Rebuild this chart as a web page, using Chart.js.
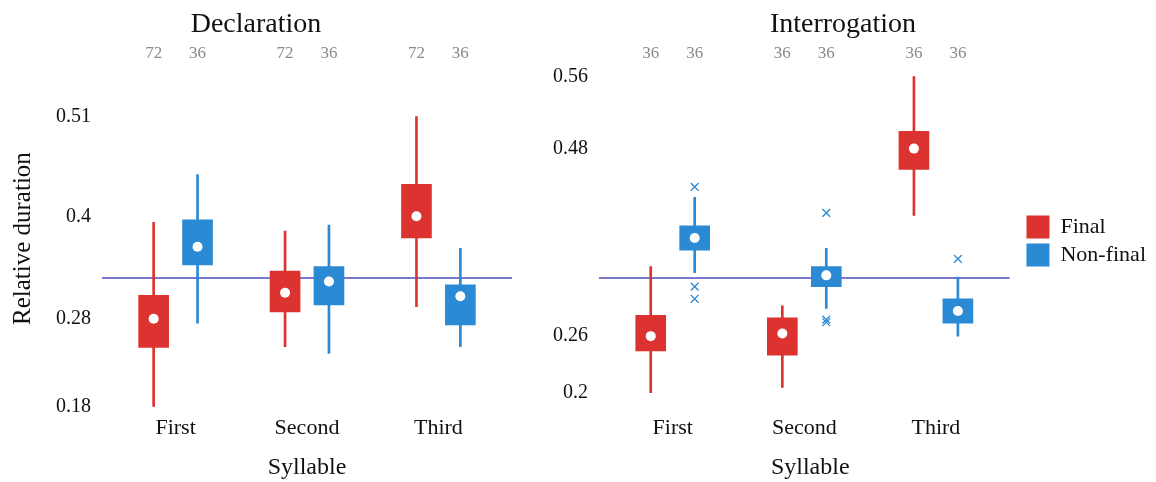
<!DOCTYPE html>
<html>
<head>
<meta charset="utf-8">
<script src="https://cdn.jsdelivr.net/npm/chart.js@4"></script>
<style>
  body { margin: 0; background: #fff; }
  #wrap { position: relative; width: 1156px; height: 482px; }
  #left { position: absolute; left: 0; top: 0; }
  #right { position: absolute; left: 530px; top: 0; }
</style>
</head>
<body>
<div id="wrap">
  <canvas id="left" width="530" height="482"></canvas>
  <canvas id="right" width="626" height="482"></canvas>
</div>
<script>
// categories and groups
const syllables = ['First', 'Second', 'Third'];
const groups = ['Final', 'Non-final'];

// Declaration: whisker low, box low, middle dot, box high, whisker high
const declFinalLow = [0.182, 0.251, 0.297];
const declFinalQ1 = [0.250, 0.291, 0.376];
const declFinalMid = [0.283, 0.313, 0.401];
const declFinalQ3 = [0.310, 0.338, 0.438];
const declFinalHigh = [0.394, 0.384, 0.516];
const declFinalN = [72, 72, 72];

const declNonLow = [0.278, 0.243, 0.251];
const declNonQ1 = [0.345, 0.299, 0.276];
const declNonMid = [0.366, 0.326, 0.309];
const declNonQ3 = [0.397, 0.343, 0.322];
const declNonHigh = [0.449, 0.391, 0.364];
const declNonN = [36, 36, 36];
const declOutliers = [[], [], []];

const declTickValues = [0.182, 0.283, 0.401, 0.516];
const declTickLabels = ['0.18', '0.28', '0.4', '0.51'];

// Interrogation
const intFinalLow = [0.198, 0.204, 0.402];
const intFinalQ1 = [0.246, 0.241, 0.455];
const intFinalMid = [0.263, 0.266, 0.479];
const intFinalQ3 = [0.287, 0.284, 0.499];
const intFinalHigh = [0.343, 0.298, 0.562];
const intFinalN = [36, 36, 36];

const intNonLow = [0.336, 0.295, 0.263];
const intNonQ1 = [0.362, 0.320, 0.278];
const intNonMid = [0.376, 0.333, 0.292];
const intNonQ3 = [0.390, 0.343, 0.306];
const intNonHigh = [0.423, 0.364, 0.331];
const intNonN = [36, 36, 36];
const intOutliers = [[0.435, 0.320, 0.306], [0.405, 0.282, 0.279], [0.352]];

const intTickValues = [0.198, 0.263, 0.479, 0.562];
const intTickLabels = ['0.2', '0.26', '0.48', '0.56'];

const refValue = 0.33;
const yMin = 0.1756, yMax = 0.5751;
const lineStart = 0.44, lineEnd = 3.56;
const offset = 0.167;

const red = '#dc3330';
const blue = '#2a8ad4';
const purple = '#7b78d0';
const serif = "'Liberation Serif', 'DejaVu Serif', serif";

function pos(i, g) { return i + 1 + (g === 0 ? -offset : offset); }

function ranges(lo, hi, g) { return lo.map((v, i) => ({ x: pos(i, g), y: [v, hi[i]] })); }

function points(vals, g) { return vals.map((v, i) => ({ x: pos(i, g), y: v })); }

function makeChart(canvas, cfg) {
  const datasets = [
    { type: 'bar', label: groups[0], data: ranges(cfg.fLo, cfg.fHi, 0), backgroundColor: red,
      barThickness: 2, grouped: false, order: 3, whisker: true },
    { type: 'bar', label: groups[1], data: ranges(cfg.nLo, cfg.nHi, 1), backgroundColor: blue,
      barThickness: 2, grouped: false, order: 3, whisker: true },
    { type: 'bar', label: groups[0], data: ranges(cfg.fQ1, cfg.fQ3, 0), backgroundColor: red,
      barThickness: 30, grouped: false, order: 2 },
    { type: 'bar', label: groups[1], data: ranges(cfg.nQ1, cfg.nQ3, 1), backgroundColor: blue,
      barThickness: 30, grouped: false, order: 2 },
    { type: 'scatter', label: 'mid', data: points(cfg.fMid, 0).concat(points(cfg.nMid, 1)),
      pointRadius: 5, pointBackgroundColor: '#fff', pointBorderWidth: 0, order: 0, whisker: true },
    { type: 'scatter', label: 'out',
      data: cfg.outliers.flatMap((arr, i) => arr.map(v => ({ x: pos(i, 1), y: v }))),
      pointStyle: 'crossRot', pointRadius: 5.5, borderColor: blue, pointBorderColor: blue,
      pointBorderWidth: 1.3, order: 1, whisker: true },
    { type: 'line', label: 'ref', data: [{ x: lineStart, y: refValue }, { x: lineEnd, y: refValue }],
      borderColor: purple, borderWidth: 2, pointRadius: 0, order: 5, whisker: true }
  ];
  const counts = cfg.fN.flatMap((n, i) => [n, cfg.nN[i]]);
  const topPos = syllables.flatMap((s, i) => [pos(i, 0), pos(i, 1)]);

  return new Chart(canvas, {
    type: 'bar',
    data: { datasets },
    options: {
      responsive: false,
      animation: false,
      layout: { padding: { right: cfg.padRight, top: 0 } },
      plugins: {
        title: { display: true, text: cfg.title, color: '#111',
          font: { family: serif, size: 28, weight: 'normal', lineHeight: 1.1 }, padding: { top: 9, bottom: 0 } },
        legend: {
          display: cfg.legend,
          position: 'right',
          labels: {
            filter: (item, data) => !data.datasets[item.datasetIndex].whisker,
            boxWidth: 23, boxHeight: 23, padding: 5, color: '#111',
            font: { family: serif, size: 22 }
          }
        },
        tooltip: { enabled: false }
      },
      scales: {
        x: {
          type: 'linear', position: 'bottom', min: cfg.xMin, max: cfg.xMax, offset: false,
          grid: { display: false, drawTicks: false }, border: { display: false },
          afterBuildTicks: s => { s.ticks = syllables.map((n, i) => ({ value: i + 1 })); },
          afterFit: s => { s.height = 70; },
          ticks: { callback: (v, i) => syllables[i], color: '#111', padding: 5,
            font: { family: serif, size: 22, lineHeight: 1 } },
          title: { display: true, text: 'Syllable', color: '#111', padding: { top: 0, bottom: 0 },
            font: { family: serif, size: 24 } }
        },
        x2: {
          type: 'linear', position: 'top', min: cfg.xMin, max: cfg.xMax, offset: false,
          grid: { display: false, drawTicks: false }, border: { display: false },
          afterBuildTicks: s => { s.ticks = topPos.map(v => ({ value: v })); },
          afterFit: s => { s.height = 25.4; },
          ticks: { callback: (v, i) => String(counts[i]), color: '#8a8a8a', padding: 1,
            maxRotation: 0, autoSkip: false, font: { family: serif, size: 17 } }
        },
        y: {
          type: 'linear', min: yMin, max: yMax,
          grid: { display: false, drawTicks: false }, border: { display: false },
          afterBuildTicks: s => { s.ticks = cfg.tickValues.map(v => ({ value: v })); },
          afterFit: s => { s.width = cfg.yWidth; },
          ticks: { callback: (v, i) => cfg.tickLabels[i], color: '#111', padding: 11,
            font: { family: serif, size: 20 } },
          title: { display: cfg.yTitle, text: 'Relative duration', color: '#111',
            padding: { top: 8, bottom: 0 }, font: { family: serif, size: 25 } }
        }
      }
    }
  });
}

makeChart(document.getElementById('left'), {
  title: 'Declaration', legend: false, yTitle: true, yWidth: 102, xMin: 0.44, xMax: 3.56,
  fLo: declFinalLow, fQ1: declFinalQ1, fMid: declFinalMid, fQ3: declFinalQ3, fHi: declFinalHigh, fN: declFinalN,
  nLo: declNonLow, nQ1: declNonQ1, nMid: declNonMid, nQ3: declNonQ3, nHi: declNonHigh, nN: declNonN,
  outliers: declOutliers, tickValues: declTickValues, tickLabels: declTickLabels, padRight: 18
});

makeChart(document.getElementById('right'), {
  title: 'Interrogation', legend: true, yTitle: false, yWidth: 69, xMin: 0.44, xMax: 3.65,
  fLo: intFinalLow, fQ1: intFinalQ1, fMid: intFinalMid, fQ3: intFinalQ3, fHi: intFinalHigh, fN: intFinalN,
  nLo: intNonLow, nQ1: intNonQ1, nMid: intNonMid, nQ3: intNonQ3, nHi: intNonHigh, nN: intNonN,
  outliers: intOutliers, tickValues: intTickValues, tickLabels: intTickLabels, padRight: 0
});
</script>
</body>
</html>
